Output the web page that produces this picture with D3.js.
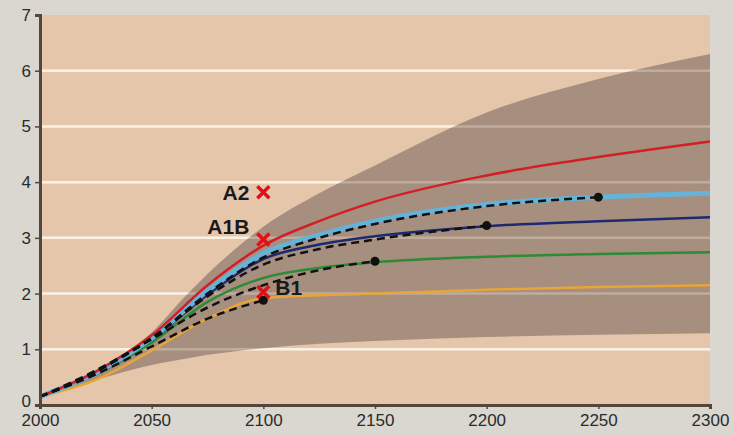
<!DOCTYPE html>
<html>
<head>
<meta charset="utf-8">
<script src="https://cdn.jsdelivr.net/npm/d3@7"></script>
<style>
  body { margin: 0; background: #d9d7d0; }
  #chart { width: 734px; height: 436px; }
  text { font-family: "Liberation Sans", Arial, sans-serif; }
</style>
</head>
<body>
<div id="chart"></div>
<script>
//Datos
const years = [2000, 2025, 2050, 2075, 2100, 2125, 2150, 2200, 2250, 2300];
const redSeries = [0.15, 0.6, 1.25, 2.15, 2.86, 3.3, 3.65, 4.12, 4.45, 4.73];
const lightBlueSeries = [0.15, 0.58, 1.2, 2.05, 2.72, 3.05, 3.3, 3.6, 3.73, 3.8];
const darkBlueSeries = [0.15, 0.57, 1.17, 1.98, 2.62, 2.88, 3.03, 3.21, 3.3, 3.37];
const greenSeries = [0.15, 0.55, 1.12, 1.85, 2.28, 2.46, 2.56, 2.66, 2.71, 2.74];
const orangeSeries = [0.15, 0.45, 0.98, 1.55, 1.92, 1.97, 2.0, 2.07, 2.12, 2.15];

//Líneas discontinuas (acaban en un punto)
const dash2100 = [0.15, 0.55, 1.05, 1.55, 1.88];
const dash2150 = [0.15, 0.62, 1.18, 1.75, 2.15, 2.42, 2.58];
const dash2200 = [0.15, 0.6, 1.2, 1.95, 2.52, 2.8, 2.97, 3.22];
const dash2250 = [0.15, 0.6, 1.2, 2.0, 2.65, 3.0, 3.25, 3.57, 3.73];

//Banda de incertidumbre
const bandYears = [2000, 2025, 2050, 2065, 2075, 2100, 2125, 2150, 2200, 2250, 2300];
const bandUpper = [0.15, 0.62, 1.3, 1.95, 2.35, 3.2, 3.8, 4.3, 5.25, 5.85, 6.3];
const bandLower = [0.15, 0.45, 0.72, 0.83, 0.9, 1.02, 1.1, 1.15, 1.22, 1.26, 1.29];

//Marcadores de escenarios
const markerNames = ['A2', 'A1B', 'B1'];
const markerValues = [3.82, 2.97, 2.03];
const markerYear = 2100;

const xTicks = [2000, 2050, 2100, 2150, 2200, 2250, 2300];
const yTicks = [0, 1, 2, 3, 4, 5, 6, 7];

const margin = {top: 15, right: 24, bottom: 31, left: 40},
    width = 734 - margin.left - margin.right,
    height = 436 - margin.top - margin.bottom;

const svg = d3.select('#chart')
    .append('svg')
        .attr('width', 734)
        .attr('height', 436)
    .append('g')
        .attr('transform', 'translate(' + margin.left + ',' + margin.top + ')');

const x = d3.scaleLinear().domain([2000, 2300]).range([0, width]);
const y = d3.scaleLinear().domain([0, 7]).range([height, 0]);

//Fondo
svg.append('rect')
    .attr('width', width).attr('height', height)
    .attr('fill', '#e5c6aa');

//Rejilla (bajo la banda)
svg.append('g').selectAll('line')
    .data(yTicks.filter(d => d > 0 && d < 7))
    .enter().append('line')
    .attr('x1', 0).attr('x2', width)
    .attr('y1', d => y(d)).attr('y2', d => y(d))
    .attr('stroke', '#fbf1e2').attr('stroke-width', 2.5);

//Banda
const band = bandYears.map((yr, i) => ({yr: yr, lo: bandLower[i], hi: bandUpper[i]}));
svg.append('path')
    .datum(band)
    .attr('fill', '#a68f7f')
    .attr('d', d3.area()
        .x(d => x(d.yr))
        .y0(d => y(d.lo))
        .y1(d => y(d.hi))
        .curve(d3.curveMonotoneX));

//Rejilla (sobre la banda, tenue)
svg.append('g').selectAll('line')
    .data(yTicks.filter(d => d > 0 && d < 7))
    .enter().append('line')
    .attr('x1', 0).attr('x2', width)
    .attr('y1', d => y(d)).attr('y2', d => y(d))
    .attr('stroke', '#fbf1e2').attr('stroke-width', 2.5)
    .attr('opacity', 0.3);

const line = d3.line()
    .x(d => x(d[0]))
    .y(d => y(d[1]))
    .curve(d3.curveMonotoneX);

function pairs(values) {
    return values.map((v, i) => [years[i], v]);
}

//Líneas de colores
const series = [
    {values: orangeSeries, color: '#e9a43a', w: 2.5},
    {values: greenSeries, color: '#2f8a35', w: 2.5},
    {values: darkBlueSeries, color: '#1d2a6e', w: 2.5},
    {values: lightBlueSeries, color: '#65b3d8', w: 5},
    {values: redSeries, color: '#d21f26', w: 2.5}
];

svg.append('g').selectAll('path')
    .data(series)
    .enter().append('path')
    .attr('fill', 'none')
    .attr('stroke', d => d.color)
    .attr('stroke-width', d => d.w)
    .attr('d', d => line(pairs(d.values)));

//Líneas discontinuas
const dashed = [dash2100, dash2150, dash2200, dash2250];
svg.append('g').selectAll('path')
    .data(dashed)
    .enter().append('path')
    .attr('fill', 'none')
    .attr('stroke', '#111')
    .attr('stroke-width', 2.5)
    .attr('stroke-dasharray', '8,5')
    .attr('d', d => line(pairs(d)));

svg.append('g').selectAll('circle')
    .data(dashed)
    .enter().append('circle')
    .attr('cx', d => x(years[d.length - 1]))
    .attr('cy', d => y(d[d.length - 1]))
    .attr('r', 4.5)
    .attr('fill', '#111');

//Marcadores X
const markers = markerNames.map((n, i) => ({name: n, value: markerValues[i]}));
const mk = svg.append('g').selectAll('g')
    .data(markers)
    .enter().append('g')
    .attr('transform', d => 'translate(' + x(markerYear) + ',' + y(d.value) + ')');

mk.append('path')
    .attr('d', 'M-6,-6L6,6M-6,6L6,-6')
    .attr('stroke', '#e0101a')
    .attr('stroke-width', 3.5);

mk.append('text')
    .attr('x', d => d.name === 'B1' ? 12 : -14)
    .attr('y', d => d.name === 'A1B' ? -13 : (d.name === 'B1' ? -4 : 0))
    .attr('dy', '0.36em')
    .attr('text-anchor', d => d.name === 'B1' ? 'start' : 'end')
    .attr('font-size', 21)
    .attr('font-weight', 'bold')
    .attr('fill', '#1a1a1a')
    .text(d => d.name);

//Ejes
const axisColor = '#54463c';
const gx = svg.append('g')
    .attr('transform', 'translate(0,' + height + ')')
    .call(d3.axisBottom(x).tickValues(xTicks).tickFormat(d3.format('d')).tickSize(4).tickPadding(5));
const gy = svg.append('g')
    .call(d3.axisLeft(y).tickValues(yTicks).tickFormat(d3.format('d')).tickSize(5).tickPadding(4));

[gx, gy].forEach(g => {
    g.select('.domain').attr('stroke', axisColor).attr('stroke-width', 3);
    g.selectAll('.tick line').attr('stroke', axisColor).attr('stroke-width', 1.5);
    g.selectAll('.tick text')
        .attr('fill', '#2b2b2b')
        .attr('font-size', 17)
        .attr('font-family', '"Liberation Sans", Arial, sans-serif');
});

//El "0" queda un poco más arriba para no pisar el "2000"
gy.selectAll('.tick text').filter(d => d === 0).attr('dy', '0.1em');
</script>
</body>
</html>
